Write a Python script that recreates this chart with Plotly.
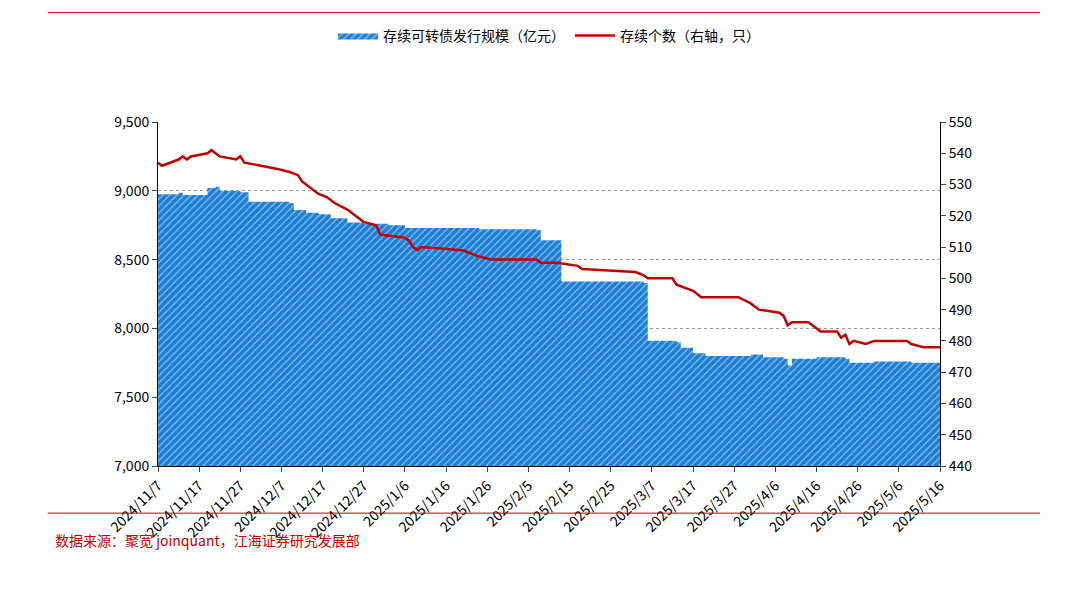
import plotly.graph_objects as go

# 存续可转债发行规模（亿元），阶梯变化点
size_dates = ["2024-11-07", "2024-11-12", "2024-11-13", "2024-11-19", "2024-11-21", "2024-11-22",
              "2024-11-27", "2024-11-29", "2024-12-09", "2024-12-10", "2024-12-13", "2024-12-16",
              "2024-12-19", "2024-12-23", "2024-12-27", "2025-01-02", "2025-01-06", "2025-01-24",
              "2025-02-07", "2025-02-08", "2025-02-13", "2025-03-05", "2025-03-06", "2025-03-13",
              "2025-03-14", "2025-03-17", "2025-03-20", "2025-03-31", "2025-04-03", "2025-04-08",
              "2025-04-09", "2025-04-10", "2025-04-16", "2025-04-23", "2025-04-24", "2025-04-30",
              "2025-05-09", "2025-05-16"]
size_vals = [8975, 8985, 8970, 9020, 9030, 9000,
             8990, 8920, 8910, 8860, 8840, 8830,
             8800, 8770, 8760, 8750, 8730, 8720,
             8715, 8640, 8340, 8330, 7910, 7900,
             7860, 7820, 7800, 7810, 7790, 7780,
             7730, 7780, 7790, 7780, 7750, 7760,
             7750, 7745]

# 存续个数（右轴，只）
cnt_dates = ["2024-11-07", "2024-11-08", "2024-11-12", "2024-11-13", "2024-11-14", "2024-11-15",
             "2024-11-19", "2024-11-20", "2024-11-22", "2024-11-26", "2024-11-27", "2024-11-28",
             "2024-12-02", "2024-12-06", "2024-12-09", "2024-12-11", "2024-12-12", "2024-12-13",
             "2024-12-16", "2024-12-18", "2024-12-20", "2024-12-23", "2024-12-25", "2024-12-27",
             "2024-12-30", "2024-12-31", "2025-01-06", "2025-01-07", "2025-01-08", "2025-01-09",
             "2025-01-10", "2025-01-20", "2025-01-22", "2025-01-24", "2025-01-27", "2025-02-07",
             "2025-02-08", "2025-02-12", "2025-02-17", "2025-02-18", "2025-03-03", "2025-03-05",
             "2025-03-06", "2025-03-12", "2025-03-13", "2025-03-17", "2025-03-19", "2025-03-28",
             "2025-03-31", "2025-04-01", "2025-04-02", "2025-04-07", "2025-04-08", "2025-04-09",
             "2025-04-10", "2025-04-14", "2025-04-15", "2025-04-17", "2025-04-21", "2025-04-22",
             "2025-04-23", "2025-04-24", "2025-04-25", "2025-04-28", "2025-04-30", "2025-05-08",
             "2025-05-09", "2025-05-12", "2025-05-16"]
cnt_vals = [537, 536, 538, 539, 538, 539,
            540, 541, 539, 538, 539, 537,
            536, 535, 534, 533, 531, 530,
            527, 526, 524, 522, 520, 518,
            517, 514, 513, 512, 510, 509,
            510, 509, 508, 507, 506, 506,
            505, 505, 504, 503, 502, 501,
            500, 500, 498, 496, 494, 494,
            492, 491, 490, 489, 488, 485,
            486, 486, 485, 483, 483, 481,
            482, 479, 480, 479, 480, 480,
            479, 478, 478]

tick_dates = ["2024-11-07", "2024-11-17", "2024-11-27", "2024-12-07", "2024-12-17", "2024-12-27",
              "2025-01-06", "2025-01-16", "2025-01-26", "2025-02-05", "2025-02-15", "2025-02-25",
              "2025-03-07", "2025-03-17", "2025-03-27", "2025-04-06", "2025-04-16", "2025-04-26",
              "2025-05-06", "2025-05-16"]
tick_text = ["2024/11/7", "2024/11/17", "2024/11/27", "2024/12/7", "2024/12/17", "2024/12/27",
             "2025/1/6", "2025/1/16", "2025/1/26", "2025/2/5", "2025/2/15", "2025/2/25",
             "2025/3/7", "2025/3/17", "2025/3/27", "2025/4/6", "2025/4/16", "2025/4/26",
             "2025/5/6", "2025/5/16"]

FONT = "Noto Sans CJK SC"
RED = "#c00000"
BLUE = "#1f7fd6"

fig = go.Figure()
fig.add_trace(go.Scatter(
    x=size_dates, y=size_vals, name="存续可转债发行规模（亿元）",
    mode="lines", line=dict(shape="hv", width=0, color=BLUE),
    fill="tozeroy", fillcolor=BLUE,
    fillpattern=dict(shape="/", fgcolor="#ffffff", bgcolor=BLUE, size=5, solidity=0.25),
))
fig.add_trace(go.Scatter(
    x=cnt_dates, y=cnt_vals, name="存续个数（右轴，只）", yaxis="y2",
    mode="lines", line=dict(width=2.5, color=RED),
))

fig.update_layout(
    width=1089, height=616,
    paper_bgcolor="white", plot_bgcolor="white",
    margin=dict(l=150, r=157, t=100, b=158),
    font=dict(family=FONT, size=13, color="black"),
    showlegend=True,
    legend=dict(orientation="h", x=0.5, xanchor="center", y=1.25, yanchor="middle",
                font=dict(size=14), itemwidth=40),
    xaxis=dict(type="date", range=["2024-11-07", "2025-05-16"], automargin=False,
               tickvals=tick_dates, ticktext=tick_text, tickangle=-45,
               showline=True, linecolor="black", ticks="outside", ticklen=5,
               showgrid=False, tickfont=dict(size=14)),
    yaxis=dict(range=[7000, 9500], dtick=500, tickformat=",", automargin=False,
               showline=True, linecolor="black", ticks="outside", ticklen=5,
               showgrid=True, gridcolor="#999999", griddash="dot", tickfont=dict(size=14)),
    yaxis2=dict(range=[440, 550], dtick=10, overlaying="y", side="right", automargin=False,
                showline=True, linecolor="black", ticks="outside", ticklen=5,
                showgrid=False, tickfont=dict(size=14)),
    annotations=[
        dict(text="图 4、转债市场发行规模与每日存续个券数量", xref="paper", yref="paper",
             x=-0.141, y=1.40, xanchor="left", yanchor="middle", showarrow=False,
             font=dict(size=17, color=RED, family=FONT)),
        dict(text="数据来源：聚宽 joinquant，江海证券研究发展部", xref="paper", yref="paper",
             x=-0.134, y=-0.215, xanchor="left", yanchor="middle", showarrow=False,
             font=dict(size=14, color=RED, family=FONT)),
    ],
    shapes=[
        dict(type="line", xref="paper", yref="paper", x0=-0.141, x1=1.128, y0=1.318, y1=1.318,
             line=dict(color=RED, width=1)),
        dict(type="line", xref="paper", yref="paper", x0=-0.141, x1=1.128, y0=-0.137, y1=-0.137,
             line=dict(color=RED, width=1)),
    ],
)

fig.write_html("out.html")
